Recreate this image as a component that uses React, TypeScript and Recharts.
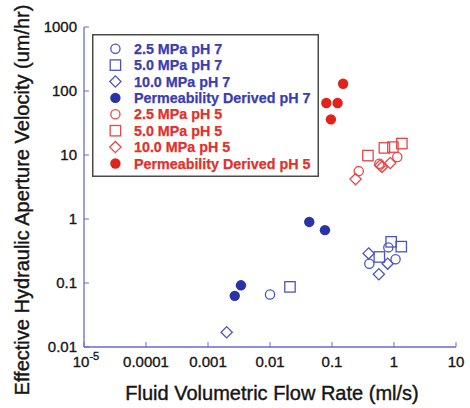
import React from 'react';
import { ScatterChart, Scatter, XAxis, YAxis, Legend } from 'recharts';

// ---- data ----
const xTicks = [1e-5, 1e-4, 1e-3, 1e-2, 1e-1, 1, 10];
const xTickLabels = ['10', '0.0001', '0.001', '0.01', '0.1', '1', '10'];
const yTicks = [0.01, 0.1, 1, 10, 100, 1000];
const yTickLabels = ['0.01', '0.1', '1', '10', '100', '1000'];

const blue25 = [
  { x: 0.010, y: 0.066 },
  { x: 0.40, y: 0.20 },
  { x: 0.81, y: 0.36 },
  { x: 1.06, y: 0.235 },
];
const blue50 = [
  { x: 0.021, y: 0.087 },
  { x: 0.58, y: 0.255 },
  { x: 0.90, y: 0.44 },
  { x: 1.31, y: 0.37 },
];
const blue100 = [
  { x: 0.0020, y: 0.017 },
  { x: 0.39, y: 0.29 },
  { x: 0.57, y: 0.137 },
  { x: 0.79, y: 0.20 },
];
const bluePerm = [
  { x: 0.0027, y: 0.063 },
  { x: 0.0034, y: 0.092 },
  { x: 0.043, y: 0.90 },
  { x: 0.077, y: 0.67 },
];
const red25 = [
  { x: 0.27, y: 5.6 },
  { x: 0.58, y: 7.3 },
  { x: 1.13, y: 9.3 },
];
const red50 = [
  { x: 0.38, y: 9.8 },
  { x: 0.70, y: 12.9 },
  { x: 0.96, y: 13.3 },
  { x: 1.34, y: 15.1 },
];
const red100 = [
  { x: 0.24, y: 4.2 },
  { x: 0.60, y: 6.9 },
  { x: 0.64, y: 6.5 },
  { x: 0.87, y: 7.5 },
];
const redPerm = [
  { x: 0.081, y: 65 },
  { x: 0.123, y: 65 },
  { x: 0.096, y: 36 },
  { x: 0.151, y: 130 },
];

const legendLabels = [
  '2.5 MPa pH 7',
  '5.0 MPa pH 7',
  '10.0 MPa pH 7',
  'Permeability Derived pH 7',
  '2.5 MPa pH 5',
  '5.0 MPa pH 5',
  '10.0 MPa pH 5',
  'Permeability Derived pH 5',
];

// ---- styles ----
const FONT = '"Liberation Sans", Arial, Helvetica, sans-serif';
const FRAME = '#666bcf';
const BLUE_FILL = '#2a32a8';
const BLUE_OPEN = '#4b53c2';
const RED_FILL = '#e2231c';
const RED_OPEN = '#e84646';
const BLUE_TEXT = '#3a3db2';
const RED_TEXT = '#e2302a';
const INK = '#151515';

const W = 470;
const H = 408;
const M_TOP = 27;
const M_RIGHT = 14;
const Y_W = 84;
const X_H = 61;
const PLOT_TOP = M_TOP;
const PLOT_BOTTOM = H - X_H;
const PLOT_LEFT = Y_W;
const PLOT_RIGHT = W - M_RIGHT;
const TICK_LEN = 5;

type Kind = 'circle' | 'square' | 'diamond' | 'dot';

function Marker({ cx, cy, kind, color }: { cx: number; cy: number; kind: Kind; color: string }) {
  if (cx == null || cy == null) return null;
  if (kind === 'circle') {
    return <circle cx={cx} cy={cy} r={4.6} fill="none" stroke={color} strokeWidth={1.3} />;
  }
  if (kind === 'square') {
    return <rect x={cx - 5.2} y={cy - 5.2} width={10.4} height={10.4} fill="none" stroke={color} strokeWidth={1.3} />;
  }
  if (kind === 'diamond') {
    const d = 5.6;
    return (
      <path
        d={`M${cx},${cy - d}L${cx + d},${cy}L${cx},${cy + d}L${cx - d},${cy}Z`}
        fill="none"
        stroke={color}
        strokeWidth={1.3}
      />
    );
  }
  return <circle cx={cx} cy={cy} r={5.2} fill={color} stroke="none" />;
}

const shapeOf = (kind: Kind, color: string) => (props: any) =>
  <Marker cx={props.cx} cy={props.cy} kind={kind} color={color} />;

const legendItems: { kind: Kind; color: string; text: string }[] = [
  { kind: 'circle', color: BLUE_OPEN, text: BLUE_TEXT },
  { kind: 'square', color: BLUE_OPEN, text: BLUE_TEXT },
  { kind: 'diamond', color: BLUE_OPEN, text: BLUE_TEXT },
  { kind: 'dot', color: BLUE_FILL, text: BLUE_TEXT },
  { kind: 'circle', color: RED_OPEN, text: RED_TEXT },
  { kind: 'square', color: RED_OPEN, text: RED_TEXT },
  { kind: 'diamond', color: RED_OPEN, text: RED_TEXT },
  { kind: 'dot', color: RED_FILL, text: RED_TEXT },
];

function LegendBox() {
  const w = 227;
  const h = 143;
  return (
    <svg width={w} height={h} style={{ display: 'block' }}>
      <rect x={0.75} y={0.75} width={w - 1.5} height={h - 1.5} fill="#fff" stroke="#4a4a4a" strokeWidth={1.5} />
      {legendItems.map((it, i) => {
        const cy = 14.7 + i * 16.4;
        return (
          <g key={i}>
            <Marker cx={23.4} cy={cy} kind={it.kind} color={it.color} />
            <text
              x={42}
              y={cy}
              dy="0.36em"
              fill={it.text}
              stroke={it.text}
              strokeWidth={0.25}
              fontFamily={FONT}
              fontWeight="bold"
              fontSize={14.3}
            >
              {legendLabels[i]}
            </text>
          </g>
        );
      })}
    </svg>
  );
}

const tickText = { fontFamily: FONT, fontSize: 15, fill: INK, stroke: INK, strokeWidth: 0.35 };

function BottomTick(props: any) {
  const { x, index } = props;
  const label = xTickLabels[index];
  return (
    <g>
      <line x1={x} x2={x} y1={PLOT_BOTTOM} y2={PLOT_BOTTOM - TICK_LEN} stroke={FRAME} strokeWidth={1} />
      {index === 0 ? (
        <text x={x + 2} y={367} textAnchor="middle" {...tickText}>
          {label}
          <tspan fontSize={11} dy={-7}>-5</tspan>
        </text>
      ) : (
        <text x={x} y={367} textAnchor="middle" {...tickText}>
          {label}
        </text>
      )}
    </g>
  );
}

function TopTick(props: any) {
  const { x } = props;
  return <line x1={x} x2={x} y1={PLOT_TOP} y2={PLOT_TOP + TICK_LEN} stroke={FRAME} strokeWidth={1} />;
}

function LeftTick(props: any) {
  const { y, index } = props;
  return (
    <g>
      <line x1={PLOT_LEFT} x2={PLOT_LEFT + TICK_LEN} y1={y} y2={y} stroke={FRAME} strokeWidth={1} />
      <text x={77} y={y} dy="0.33em" textAnchor="end" {...tickText}>
        {yTickLabels[index]}
      </text>
    </g>
  );
}

function RightTick(props: any) {
  const { y } = props;
  return <line x1={PLOT_RIGHT} x2={PLOT_RIGHT - TICK_LEN} y1={y} y2={y} stroke={FRAME} strokeWidth={1} />;
}

const XTitle = () => (
  <text x={272} y={400} textAnchor="middle" fontFamily={FONT} fontSize={20} fill={INK} stroke={INK} strokeWidth={0.4}>
    Fluid Volumetric Flow Rate (ml/s)
  </text>
);

const YTitle = () => (
  <text
    x={22}
    y={200}
    transform="rotate(-90 22 200)"
    dy="0.36em"
    textAnchor="middle"
    fontFamily={FONT}
    fontSize={20}
    fill={INK}
    stroke={INK}
    strokeWidth={0.4}
  >
    Effective Hydraulic Aperture Velocity (um/hr)
  </text>
);

export default function App() {
  const series: { data: { x: number; y: number }[]; kind: Kind; color: string; name: string }[] = [
    { data: blue25, kind: 'circle', color: BLUE_OPEN, name: legendLabels[0] },
    { data: blue50, kind: 'square', color: BLUE_OPEN, name: legendLabels[1] },
    { data: blue100, kind: 'diamond', color: BLUE_OPEN, name: legendLabels[2] },
    { data: bluePerm, kind: 'dot', color: BLUE_FILL, name: legendLabels[3] },
    { data: red25, kind: 'circle', color: RED_OPEN, name: legendLabels[4] },
    { data: red50, kind: 'square', color: RED_OPEN, name: legendLabels[5] },
    { data: red100, kind: 'diamond', color: RED_OPEN, name: legendLabels[6] },
    { data: redPerm, kind: 'dot', color: RED_FILL, name: legendLabels[7] },
  ];
  return (
    <div style={{ position: 'absolute', left: 0, top: 0, width: W, height: H, background: '#fff' }}>
      <ScatterChart width={W} height={H} margin={{ top: M_TOP, right: M_RIGHT, bottom: 0, left: 0 }}>
        <XAxis
          xAxisId="b"
          dataKey="x"
          type="number"
          scale="log"
          domain={[1e-5, 10]}
          ticks={xTicks}
          allowDataOverflow
          height={X_H}
          tickLine={false}
          axisLine={{ stroke: FRAME, strokeWidth: 1.3 }}
          tick={<BottomTick />}
          interval={0}
          label={<XTitle />}
        />
        <XAxis
          xAxisId="t"
          orientation="top"
          dataKey="x"
          type="number"
          scale="log"
          domain={[1e-5, 10]}
          ticks={xTicks}
          allowDataOverflow
          height={0}
          tickLine={false}
          axisLine={{ stroke: FRAME, strokeWidth: 1.3 }}
          tick={<TopTick />}
          interval={0}
        />
        <YAxis
          yAxisId="l"
          dataKey="y"
          type="number"
          scale="log"
          domain={[0.01, 1000]}
          ticks={yTicks}
          allowDataOverflow
          width={Y_W}
          tickLine={false}
          axisLine={{ stroke: FRAME, strokeWidth: 1.3 }}
          tick={<LeftTick />}
          interval={0}
          label={<YTitle />}
        />
        <YAxis
          yAxisId="r"
          orientation="right"
          dataKey="y"
          type="number"
          scale="log"
          domain={[0.01, 1000]}
          ticks={yTicks}
          allowDataOverflow
          width={0}
          tickLine={false}
          axisLine={{ stroke: FRAME, strokeWidth: 1.3 }}
          tick={<RightTick />}
          interval={0}
        />
        <Legend
          layout="vertical"
          align="center"
          verticalAlign="middle"
          content={() => <LegendBox />}
          wrapperStyle={{ left: 92, top: 34, width: 227, height: 143 }}
        />
        {series.map((s, i) => (
          <Scatter
            key={i}
            name={s.name}
            data={s.data}
            xAxisId="b"
            yAxisId="l"
            isAnimationActive={false}
            shape={shapeOf(s.kind, s.color)}
          />
        ))}
      </ScatterChart>
    </div>
  );
}
